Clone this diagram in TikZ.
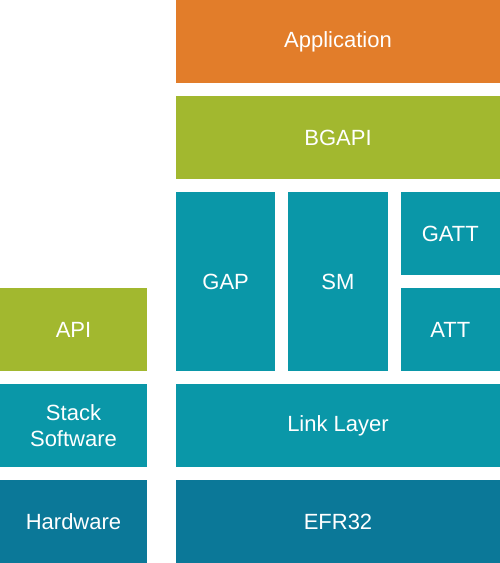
\documentclass[tikz,border=0pt]{standalone}
\usepackage{fontspec}
\setmainfont{Liberation Sans}
\usepackage{tikz}
\usetikzlibrary{positioning}
\usepackage{xcolor}

\definecolor{appOrange}{HTML}{E27D2A}
\definecolor{apiGreen}{HTML}{A2B82F}
\definecolor{stackTeal}{HTML}{0A97A8}
\definecolor{chipTeal}{HTML}{0B7898}

\begin{document}
\begin{tikzpicture}[x=1pt,y=1pt,
			layer/.style={rectangle,inner sep=0pt,outer sep=0pt,text=white,align=center,
				font=\fontsize{22}{26}\selectfont,minimum height=83pt},
			wide/.style={layer,minimum width=324pt},
			side/.style={layer,minimum width=147pt},
			cell/.style={layer,minimum width=99.33pt},
			node distance=13pt,
			]

			%canvas
			\useasboundingbox (0,0) rectangle (500,563);

			%stack column
			\node[wide,fill=appOrange,anchor=north west] (Application) at (176,563) {Application};
			\node[wide,fill=apiGreen] (BGAPI) [below=of Application] {BGAPI};
			\node[cell,fill=stackTeal,minimum height=179pt] (GAP) [below=of BGAPI.south west,anchor=north west] {GAP};
			\node[cell,fill=stackTeal,minimum height=179pt] (SM) [right=of GAP] {SM};
			\node[cell,fill=stackTeal] (GATT) [right=of SM.north east,anchor=north west] {GATT};
			\node[cell,fill=stackTeal] (ATT) [below=of GATT] {ATT};
			\node[wide,fill=stackTeal] (LinkLayer) [below=of GAP.south west,anchor=north west] {Link Layer};
			\node[wide,fill=chipTeal] (EFR) [below=of LinkLayer] {EFR32};

			%legend column
			\node[side,fill=chipTeal,anchor=south west] (Hardware) at (0,0) {Hardware};
			\node[side,fill=stackTeal] (StackSW) [above=of Hardware] {Stack\\Software};
			\node[side,fill=apiGreen] (API) [above=of StackSW] {API};

	\end{tikzpicture}
\end{document}
